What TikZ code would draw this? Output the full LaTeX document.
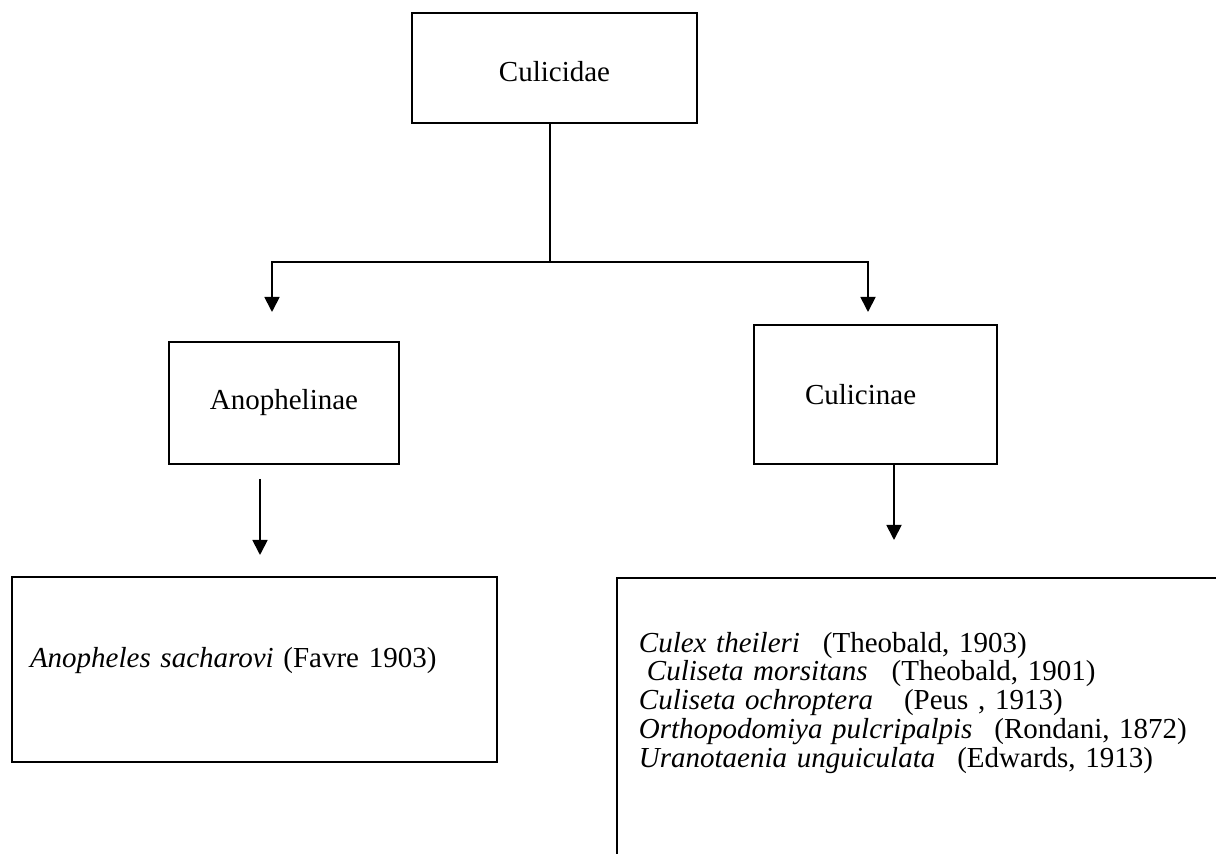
\documentclass[tikz,border=0pt]{standalone}
\usepackage{fontspec}
\setmainfont{Liberation Serif}
\usetikzlibrary{positioning, calc, arrows.meta}

\begin{document}
\begin{tikzpicture}[x=0.5pt, y=-0.5pt, line width=0.9pt, font=\fontsize{14.5}{14.4}\selectfont]
	\tikzstyle{taxbox}=[rectangle, draw=black, inner sep=0pt]
	\tikzstyle{arr}=[-{Triangle[length=7.5pt, width=7.5pt]}]
	\useasboundingbox (0,0) rectangle (1216,854);
	\clip (0,0) rectangle (1216,854);
	\node (fam) at (554.5,68) [taxbox, minimum width=142.5pt, minimum height=55pt, text height=14pt]{Culicidae};
	\node (anoph) at (284,403) [taxbox, minimum width=115pt, minimum height=61pt]{Anophelinae};
	\node (culic) at (875.5,394.5) [taxbox, minimum width=121.5pt, minimum height=69.5pt, align=left, inner xsep=25.5pt, text width=70.5pt]{Culicinae};
	\node (sach) at (254.5,669.5) [taxbox, minimum width=242.5pt, minimum height=92.5pt, align=left, inner xsep=9pt, text width=224.5pt, text depth=12pt]{\textit{Anopheles sacharovi} (Favre 1903)};
	\node (spp) at (616,577) [taxbox, anchor=north west, align=left, inner xsep=11pt, inner ysep=27pt, text width=300pt, text depth=90pt]{\textit{Culex theileri}\hspace{11.5pt}(Theobald, 1903)\\
		\hspace*{4pt}\textit{Culiseta morsitans}\hspace{12pt}(Theobald, 1901)\\
		\textit{Culiseta ochroptera}\hspace{15.5pt}(Peus , 1913)\\
		\textit{Orthopodomiya pulcripalpis}\hspace{11pt}(Rondani, 1872)\\
		\textit{Uranotaenia unguiculata}\hspace{11pt}(Edwards, 1913)};
	
	\coordinate (hub) at (550,262);
	\coordinate (anophIn) at (272,312);
	\coordinate (culicIn) at (868,312);
	\draw (fam.south -| hub) -- (hub);
	\draw[arr] (hub) -| (anophIn);
	\draw[arr] (hub) -| (culicIn);
	
	\coordinate (anophOut) at (260,479);
	\coordinate (sachIn) at (260,555);
	\draw[arr] (anophOut) -- (sachIn);
	\coordinate (sppIn) at (894,540);
	\draw[arr] (culic.south -| sppIn) -- (sppIn);
\end{tikzpicture}
\end{document}
